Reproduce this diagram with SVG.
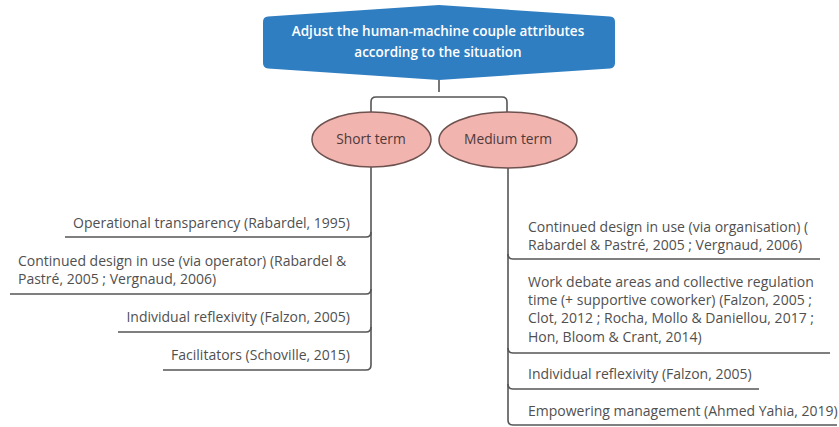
<svg xmlns="http://www.w3.org/2000/svg" width="839" height="427" viewBox="0 0 839 427">
<style>
.t{font-family:"Open Sans","Liberation Sans",sans-serif;font-size:14px;fill:#505050}
.top{font-family:"Open Sans","Liberation Sans",sans-serif;font-size:13.5px;font-weight:600;fill:#ffffff}
.el{fill:#f2b4ae;stroke:#6e5250;stroke-width:1.5}
.elt{font-family:"Open Sans","Liberation Sans",sans-serif;font-size:13.8px;fill:#4d3a3a}
.c{fill:none;stroke:#555;stroke-width:1.6}
</style>
<rect width="839" height="427" fill="#fff"/>
<g id="connectors">
<path class="c" d="M439,80 V92 M371,112 V102 Q371,97 376,97 H502 Q507,97 507,102 V112"/>
<path class="c" d="M371,166 V365"/>
<path class="c" d="M65,237 H366 Q371,237 371,232"/>
<path class="c" d="M10,294 H366 Q371,294 371,289"/>
<path class="c" d="M118,332 H366 Q371,332 371,327"/>
<path class="c" d="M163,370 H366 Q371,370 371,365"/>
<path class="c" d="M508,168 V420"/>
<path class="c" d="M508,254 Q508,259 513,259 H820"/>
<path class="c" d="M508,348 Q508,353 513,353 H830"/>
<path class="c" d="M508,384 Q508,389 513,389 H759"/>
<path class="c" d="M508,420 Q508,425 513,425 H837"/>
</g>
<g id="root">
<path d="M263,22 Q263,17 268,16.6 L439,5 L610,16.6 Q615,17 615,22 L615,63 Q615,68 610,68.4 L439,80 L268,68.4 Q263,68 263,63 Z" fill="#2f7ec2"/>
<text class="top" x="438" y="36" text-anchor="middle">Adjust the human-machine couple attributes</text>
<text class="top" x="438" y="57" text-anchor="middle">according to the situation</text>
</g>
<g id="short-term">
<ellipse class="el" cx="371.5" cy="139.5" rx="59.5" ry="27.5"/>
<text class="elt" x="371" y="144" text-anchor="middle">Short term</text>
</g>
<g id="medium-term">
<ellipse class="el" cx="508" cy="140" rx="69" ry="28"/>
<text class="elt" x="508" y="144" text-anchor="middle">Medium term</text>
</g>
<g id="s1"><text class="t" x="350" y="228" text-anchor="end">Operational transparency (Rabardel, 1995)</text></g>
<g id="s2"><text class="t" x="18" y="266">Continued design in use (via operator) (Rabardel &amp;</text><text class="t" x="18" y="284">Pastré, 2005 ; Vergnaud, 2006)</text></g>
<g id="s3"><text class="t" x="350" y="322" text-anchor="end">Individual reflexivity (Falzon, 2005)</text></g>
<g id="s4"><text class="t" x="350" y="360" text-anchor="end">Facilitators (Schoville, 2015)</text></g>
<g id="m1"><text class="t" x="528" y="232">Continued design in use (via organisation) (</text><text class="t" x="528" y="250">Rabardel &amp; Pastré, 2005 ; Vergnaud, 2006)</text></g>
<g id="m2"><text class="t" x="528" y="287">Work debate areas and collective regulation</text><text class="t" x="528" y="305">time (+ supportive coworker) (Falzon, 2005 ;</text><text class="t" x="528" y="323">Clot, 2012 ; Rocha, Mollo &amp; Daniellou, 2017 ;</text><text class="t" x="528" y="342">Hon, Bloom &amp; Crant, 2014)</text></g>
<g id="m3"><text class="t" x="528" y="379">Individual reflexivity (Falzon, 2005)</text></g>
<g id="m4"><text class="t" x="528" y="416">Empowering management (Ahmed Yahia, 2019)</text></g>
</svg>
